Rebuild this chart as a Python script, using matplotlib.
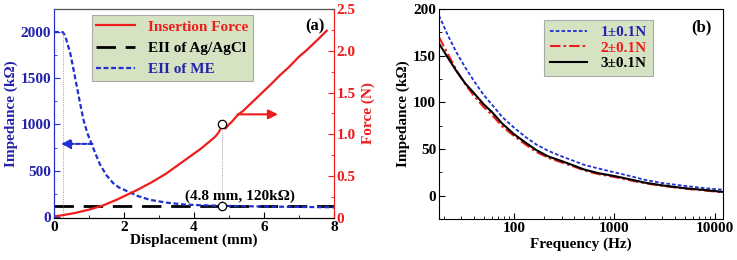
import matplotlib
matplotlib.use("Agg")
import matplotlib.pyplot as plt
from matplotlib.ticker import MultipleLocator, FixedLocator, NullFormatter, LogLocator
import numpy as np

plt.rcParams['font.family'] = ['Liberation Serif', 'DejaVu Serif']
plt.rcParams['font.weight'] = 'bold'
plt.rcParams['font.size'] = 11

# ---------------- data: panel (a) ----------------
disp_me = [0.0, 0.25, 0.3, 0.35, 0.46, 0.55, 0.65, 0.75, 0.84, 0.95, 1.08, 1.2, 1.31, 1.5, 1.69,
           1.85, 2.08, 2.4, 2.74, 3.2, 3.69, 4.2, 4.8, 5.5, 6.5, 7.5, 8.0]
eii_me = [2000, 2000, 1970, 1920, 1779, 1610, 1416, 1220, 1054, 910, 783, 670, 570, 450, 366,
          320, 280, 225, 185, 155, 135, 126, 120, 115, 110, 106, 104]

disp_ag = [0.0, 8.0]
eii_ag = [115, 115]

disp_force = [0.0, 0.2, 0.4, 0.6, 0.8, 1.0, 1.2, 1.4, 1.6, 1.8, 2.0, 2.2, 2.4, 2.6, 2.8, 3.0,
              3.2, 3.4, 3.6, 3.8, 4.0, 4.2, 4.4, 4.6, 4.7, 4.75, 4.8, 4.9, 5.0, 5.1, 5.2, 5.27,
              5.4, 5.6, 5.8, 6.0, 6.2, 6.46, 6.7, 7.0, 7.2, 7.4, 7.6, 7.79]
force = [0.02, 0.03, 0.045, 0.06, 0.08, 0.10, 0.125, 0.15, 0.185, 0.22, 0.26, 0.30, 0.34, 0.385, 0.43, 0.48,
         0.53, 0.59, 0.65, 0.71, 0.77, 0.83, 0.90, 0.97, 1.02, 1.06, 1.10, 1.07, 1.12, 1.16, 1.21, 1.24,
         1.28, 1.36, 1.44, 1.52, 1.60, 1.71, 1.80, 1.93, 2.00, 2.08, 2.16, 2.24]

mark_x = 4.8
mark_force = 1.1
mark_imp = 120

# ---------------- data: panel (b) ----------------
freq = [18, 22, 27, 33, 40, 50, 60, 77, 100, 130, 166, 220, 300, 400, 500, 700, 1000,
        1500, 2000, 3000, 5000, 8000, 12000]
imp_1N = [193, 172, 153, 137, 123, 108, 98, 84, 73, 63, 55, 48, 42, 37, 33, 29, 25,
          20.5, 17, 13.5, 10.5, 8, 6.3]
imp_2N = [170, 152, 134, 119, 107, 95, 87, 74, 64, 55, 47, 40.5, 35.5, 31, 27, 23, 20,
          16, 13.3, 10.5, 7.5, 5.5, 3.5]
imp_3N = [163, 148, 133, 120, 110, 98, 90, 77, 66, 57, 49, 42, 37, 32, 28, 24, 21,
          17, 14, 11, 8, 6, 4]

BLUE = '#1f2fd0'
BLUET = '#2222aa'
RED = '#ee1c1c'
LEGBG = '#d6e3c3'

fig = plt.figure(figsize=(7.37, 2.60), dpi=100)

# ======== panel (a) ========
ax1 = fig.add_axes([54/737, 1-218/260, 280/737, 209/260])
ax2 = ax1.twinx()
ax1.set_xlim(0, 8)
ax1.set_ylim(-12, 2250)
ax2.set_ylim(0, 2.5)

l_ag, = ax1.plot(disp_ag, eii_ag, color='black', lw=2.0, ls=(0, (7, 3.5)), label='EII of Ag/AgCl')
l_me, = ax1.plot(disp_me, eii_me, color=BLUE, lw=1.6, ls=(0, (2.2, 1.2)), label='EII of ME')
l_f, = ax2.plot(disp_force, force, color=RED, lw=1.6, label='Insertion Force')

# guide lines
ax1.plot([0.25, 0.25], [0, 2000], color='gray', lw=0.6, ls=':')
imp_of_force = lambda n: -12 + n / 2.5 * 2262
ax1.plot([mark_x, mark_x], [mark_imp, imp_of_force(mark_force)], color='gray', lw=0.6, ls=':')
ax1.plot([mark_x], [mark_imp], 'o', mfc='white', mec='black', ms=6, mew=0.9, zorder=5)
ax2.plot([mark_x], [mark_force + 0.02], 'o', mfc='white', mec='black', ms=6, mew=0.9, zorder=5)
ax1.text(5.3, 220, '(4.8 mm, 120kΩ)', ha='center', va='center', fontsize=11, fontweight='bold')

# arrows
ax1.annotate('', xy=(0.2, 790), xytext=(1.1, 790),
             arrowprops=dict(arrowstyle='-|>', color=BLUE, lw=1.5, ls=(0, (2, 1)),
                             mutation_scale=14, shrinkA=0, shrinkB=0))
ax2.annotate('', xy=(6.4, 1.24), xytext=(5.25, 1.24),
             arrowprops=dict(arrowstyle='-|>', color=RED, lw=1.5,
                             mutation_scale=14, shrinkA=0, shrinkB=0))

ax1.text(0.965, 0.955, '(a)', transform=ax1.transAxes, ha='right', va='top', fontsize=12, fontweight='bold')

ax1.set_xlabel('Displacement (mm)', fontsize=11, fontweight='bold', labelpad=0)
ax1.set_ylabel('Impedance (kΩ)', fontsize=11, fontweight='bold', color=BLUET, labelpad=2)
ax2.set_ylabel('Force (N)', fontsize=11, fontweight='bold', color=RED, labelpad=4)

ax1.xaxis.set_major_locator(MultipleLocator(2))
ax1.xaxis.set_minor_locator(MultipleLocator(1))
ax1.yaxis.set_major_locator(FixedLocator([0, 500, 1000, 1500, 2000]))
ax1.yaxis.set_minor_locator(FixedLocator([250, 750, 1250, 1750, 2250]))
ax2.set_yticks([0, 0.5, 1.0, 1.5, 2.0, 2.5])
ax2.set_yticklabels(['0', '0.5', '1.0', '1.5', '2.0', '2.5'])
ax2.yaxis.set_minor_locator(MultipleLocator(0.25))

ax1.tick_params(axis='x', which='both', direction='in', top=False, pad=2, labelsize=11)
ax1.tick_params(axis='x', which='major', length=4)
ax1.tick_params(axis='x', which='minor', length=2)
ax1.tick_params(axis='y', which='both', direction='in', colors=BLUE, labelcolor=BLUET, pad=2, labelsize=11)
ax1.tick_params(axis='y', which='major', length=4)
ax1.tick_params(axis='y', which='minor', length=2)
ax2.tick_params(axis='y', which='both', direction='in', colors=RED, labelcolor=RED, pad=2, labelsize=11)
ax2.tick_params(axis='y', which='major', length=4)
ax2.tick_params(axis='y', which='minor', length=2)
for a in (ax1, ax2):
    for t in a.get_xticklabels() + a.get_yticklabels():
        t.set_fontweight('bold')
ax2.spines['left'].set_color(BLUE)
ax2.spines['right'].set_color(RED)
ax1.spines['left'].set_color(BLUE)
ax1.spines['right'].set_color(RED)
ax2.spines['top'].set_color('#555555')

leg = ax2.legend(handles=[l_f, l_ag, l_me], loc='upper left', bbox_to_anchor=(0.135, 0.97),
                 fontsize=11, frameon=True, fancybox=False, handlelength=2.5, handletextpad=0.9,
                 labelspacing=0.5, borderpad=0.3, borderaxespad=0)
leg.get_frame().set_facecolor(LEGBG)
leg.get_frame().set_edgecolor('#aaaaaa')
leg.get_frame().set_alpha(1)
leg.get_frame().set_linewidth(0.8)
for txt, c in zip(leg.get_texts(), [RED, 'black', BLUET]):
    txt.set_color(c)
    txt.set_fontweight('bold')

# ======== panel (b) ========
ax3 = fig.add_axes([439/737, 1-219/260, 284/737, 210/260])
ax3.set_xscale('log')
ax3.set_xlim(18, 12000)
ax3.set_ylim(-25, 200)
b1, = ax3.plot(freq, imp_1N, color=BLUE, lw=1.3, ls=(0, (2, 1.2)), label='1±0.1N')
b2, = ax3.plot(freq, imp_2N, color=RED, lw=1.5, ls=(0, (5, 1.5, 1.2, 1.5)), label='2±0.1N')
b3, = ax3.plot(freq, imp_3N, color='black', lw=1.5, label='3±0.1N')

ax3.set_xticks([100, 1000, 10000])
ax3.set_xticklabels(['100', '1000', '10000'])
ax3.xaxis.set_minor_locator(LogLocator(base=10, subs=np.arange(2, 10)))
ax3.xaxis.set_minor_formatter(NullFormatter())
ax3.yaxis.set_major_locator(MultipleLocator(50))
ax3.yaxis.set_minor_locator(MultipleLocator(25))
ax3.tick_params(which='both', direction='in', pad=2, labelsize=11)
ax3.tick_params(which='major', length=4)
ax3.tick_params(which='minor', length=2)
for t in ax3.get_xticklabels() + ax3.get_yticklabels():
    t.set_fontweight('bold')
ax3.set_xlabel('Frequency (Hz)', fontsize=11, fontweight='bold', labelpad=2)
ax3.set_ylabel('Impedance (kΩ)', fontsize=11, fontweight='bold', labelpad=2)
ax3.text(0.96, 0.95, '(b)', transform=ax3.transAxes, ha='right', va='top', fontsize=12, fontweight='bold')

leg2 = ax3.legend(handles=[b1, b2, b3], loc='upper left', bbox_to_anchor=(0.37, 0.95),
                  fontsize=11, frameon=True, fancybox=False, handlelength=2.4, handletextpad=0.9,
                  labelspacing=0.12, borderpad=0.4, borderaxespad=0)
leg2.get_frame().set_facecolor(LEGBG)
leg2.get_frame().set_edgecolor('#aaaaaa')
leg2.get_frame().set_alpha(1)
leg2.get_frame().set_linewidth(0.8)
for txt, c in zip(leg2.get_texts(), [BLUET, RED, 'black']):
    txt.set_color(c)
    txt.set_fontweight('bold')

fig.savefig('out.png', dpi=100)
